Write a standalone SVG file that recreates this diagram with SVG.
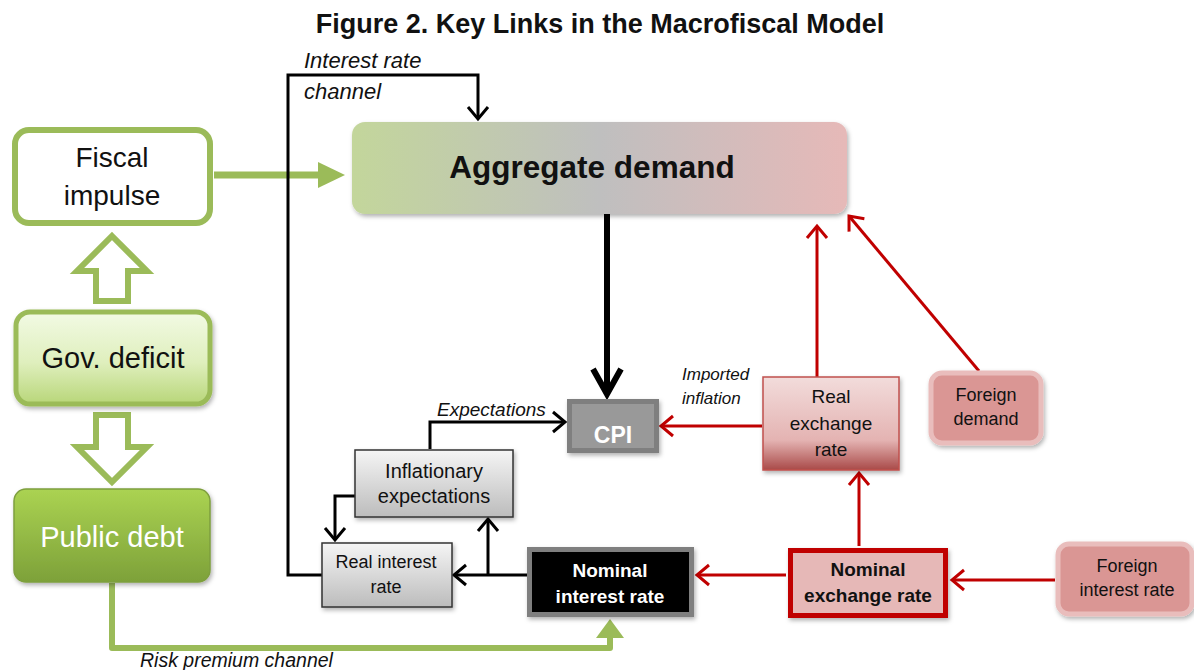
<svg xmlns="http://www.w3.org/2000/svg" width="1194" height="670" viewBox="0 0 1194 670">
<style>
text{font-family:"Liberation Sans",Arial,sans-serif;fill:#111;text-anchor:middle}
.it{font-style:italic;text-anchor:start}
.b{font-weight:bold}
.w{fill:#fff}
.blk{fill:none;stroke:#000;stroke-width:3}
.red{fill:none;stroke:#C00000;stroke-width:3}
.grn{fill:none;stroke:#9BBB59;stroke-width:7}
.gbox{fill:url(#grayGrad);stroke:#333;stroke-width:1.5}
.fbox{fill:#DA9694;stroke:#E9BDBC;stroke-width:5}
</style>
<defs>
<linearGradient id="adGrad" x1="0" y1="0" x2="1" y2="0">
<stop offset="0" stop-color="#C3D69B"/><stop offset="0.5" stop-color="#BFBFBF"/><stop offset="1" stop-color="#E6B9B8"/>
</linearGradient>
<linearGradient id="govGrad" x1="0" y1="0" x2="0" y2="1">
<stop offset="0" stop-color="#F2FAE4"/><stop offset="0.55" stop-color="#DFEFBD"/><stop offset="1" stop-color="#B8D679"/>
</linearGradient>
<linearGradient id="debtGrad" x1="0" y1="0" x2="0" y2="1">
<stop offset="0" stop-color="#ABD352"/><stop offset="1" stop-color="#7DA139"/>
</linearGradient>
<linearGradient id="grayGrad" x1="0" y1="0" x2="0" y2="1">
<stop offset="0" stop-color="#F5F5F5"/><stop offset="1" stop-color="#BCBCBC"/>
</linearGradient>
<linearGradient id="rerGrad" x1="0" y1="0" x2="0" y2="1">
<stop offset="0" stop-color="#F2DCDB"/><stop offset="0.68" stop-color="#E4B3B2"/><stop offset="1" stop-color="#A94A48"/>
</linearGradient>
<filter id="sh" x="-10%" y="-10%" width="125%" height="130%">
<feDropShadow dx="1.5" dy="2.5" stdDeviation="2" flood-color="#000" flood-opacity="0.3"/>
</filter>
<marker id="aBlk" markerUnits="userSpaceOnUse" viewBox="0 0 14 22" markerWidth="14" markerHeight="22" refX="13" refY="11" orient="auto" overflow="visible">
<path d="M1,1 L13,11 L1,21" fill="none" stroke="#000" stroke-width="3"/>
</marker>
<marker id="aRed" markerUnits="userSpaceOnUse" viewBox="0 0 14 22" markerWidth="14" markerHeight="22" refX="13" refY="11" orient="auto" overflow="visible">
<path d="M1,1 L13,11 L1,21" fill="none" stroke="#C00000" stroke-width="3"/>
</marker>
<marker id="aThick" markerUnits="userSpaceOnUse" viewBox="0 0 28 30" markerWidth="28" markerHeight="30" refX="26" refY="15" orient="auto" overflow="visible">
<path d="M1,1 L26,15 L1,29" fill="none" stroke="#000" stroke-width="6"/>
</marker>
</defs>

<rect width="1194" height="670" fill="#fff"/>

<text x="600" y="33" class="b" font-size="27">Figure 2. Key Links in the Macrofiscal Model</text>

<g id="connectors">
<line x1="214" y1="175" x2="320" y2="175" class="grn"/>
<polygon points="318,162 345,175 318,188" fill="#9BBB59"/>
<polygon points="112,236 147,271 128,271 128,301 96,301 96,271 77,271" fill="#fff" stroke="#9BBB59" stroke-width="6" stroke-linejoin="miter"/>
<polygon points="96,415 128,415 128,447 147,447 112,482 77,447 96,447" fill="#fff" stroke="#9BBB59" stroke-width="6" stroke-linejoin="miter"/>
<path d="M112,583 V648 H610 V636" fill="none" stroke="#9BBB59" stroke-width="6" stroke-linejoin="round"/>
<polygon points="596,638 610,619 624,638" fill="#9BBB59"/>
<path d="M322,575 H288 V75 H478 V119" class="blk" marker-end="url(#aBlk)"/>
<line x1="607" y1="214" x2="607" y2="394" stroke="#000" stroke-width="6" marker-end="url(#aThick)"/>
<path d="M430,449 V422 H565" class="blk" marker-end="url(#aBlk)"/>
<path d="M355,496 H335 V540" class="blk" marker-end="url(#aBlk)"/>
<line x1="527" y1="575" x2="454" y2="575" class="blk" marker-end="url(#aBlk)"/>
<line x1="488" y1="575" x2="488" y2="519" class="blk" marker-end="url(#aBlk)"/>
<line x1="762" y1="426" x2="661" y2="426" class="red" marker-end="url(#aRed)"/>
<line x1="817" y1="377" x2="817" y2="226" class="red" marker-end="url(#aRed)"/>
<line x1="979" y1="371" x2="849" y2="216" class="red" marker-end="url(#aRed)"/>
<line x1="859" y1="546" x2="859" y2="473" class="red" marker-end="url(#aRed)"/>
<line x1="786" y1="575" x2="697" y2="575" class="red" marker-end="url(#aRed)"/>
<line x1="1055" y1="580" x2="952" y2="580" class="red" marker-end="url(#aRed)"/>
</g>

<g id="fiscal-impulse">
<rect x="15" y="130" width="195" height="93" rx="14" fill="#fff" stroke="#9BBB59" stroke-width="6"/>
<text x="112" y="167" font-size="28">Fiscal</text>
<text x="112" y="205" font-size="28">impulse</text>
</g>

<g id="gov-deficit">
<rect x="16" y="312" width="194" height="92" rx="14" fill="url(#govGrad)" stroke="#9BBB59" stroke-width="5" filter="url(#sh)"/>
<text x="113" y="368" font-size="29">Gov. deficit</text>
</g>

<g id="public-debt">
<rect x="14" y="489" width="196" height="93" rx="12" fill="url(#debtGrad)" stroke="#7E9F3E" stroke-width="1.5" filter="url(#sh)"/>
<text x="112" y="547" font-size="29" class="w">Public debt</text>
</g>

<g id="aggregate-demand">
<rect x="352" y="122" width="495" height="92" rx="13" fill="url(#adGrad)" filter="url(#sh)"/>
<text x="592" y="178" font-size="31.5" class="b">Aggregate demand</text>
</g>

<g id="cpi">
<rect x="569.5" y="401.5" width="87" height="49" fill="#999" stroke="#7F7F7F" stroke-width="5" filter="url(#sh)"/>
<text x="613" y="443" font-size="23" class="b w">CPI</text>
</g>

<g id="inflationary-expectations">
<rect x="355" y="450" width="158" height="67" class="gbox" filter="url(#sh)"/>
<text x="434" y="478" font-size="20">Inflationary</text>
<text x="434" y="503" font-size="20">expectations</text>
</g>

<g id="real-interest-rate">
<rect x="322" y="543" width="130" height="64" class="gbox" filter="url(#sh)"/>
<text x="386" y="568" font-size="18">Real interest</text>
<text x="386" y="593" font-size="18">rate</text>
</g>

<g id="nominal-interest-rate">
<rect x="529.5" y="549.5" width="162" height="65" fill="#000" stroke="#7F7F7F" stroke-width="5" filter="url(#sh)"/>
<text x="610" y="577" font-size="19" class="b w">Nominal</text>
<text x="610" y="603" font-size="19" class="b w">interest rate</text>
</g>

<g id="real-exchange-rate">
<rect x="763" y="377" width="136" height="93" fill="url(#rerGrad)" stroke="#C0504D" stroke-width="1.5" filter="url(#sh)"/>
<text x="831" y="403" font-size="19">Real</text>
<text x="831" y="430" font-size="19">exchange</text>
<text x="831" y="456" font-size="19">rate</text>
</g>

<g id="foreign-demand">
<rect x="931" y="373" width="110" height="70" rx="11" class="fbox" filter="url(#sh)"/>
<text x="986" y="401" font-size="18">Foreign</text>
<text x="986" y="425" font-size="18">demand</text>
</g>

<g id="nominal-exchange-rate">
<rect x="790.5" y="550.5" width="155" height="65" fill="#E6B8B7" stroke="#C00000" stroke-width="5" filter="url(#sh)"/>
<text x="868" y="576" font-size="19" class="b">Nominal</text>
<text x="868" y="602" font-size="19" class="b">exchange rate</text>
</g>

<g id="foreign-interest-rate">
<rect x="1058" y="544" width="134" height="70" rx="11" class="fbox" filter="url(#sh)"/>
<text x="1127" y="572" font-size="18">Foreign</text>
<text x="1127" y="596" font-size="18">interest rate</text>
</g>

<g id="labels">
<text x="304" y="68" class="it" font-size="22">Interest rate</text>
<text x="304" y="99" class="it" font-size="22">channel</text>
<text x="437" y="416" class="it" font-size="19">Expectations</text>
<text x="682" y="380" class="it" font-size="17">Imported</text>
<text x="682" y="404" class="it" font-size="17">inflation</text>
<text x="140" y="667" class="it" font-size="19.5">Risk premium channel</text>
</g>
</svg>
